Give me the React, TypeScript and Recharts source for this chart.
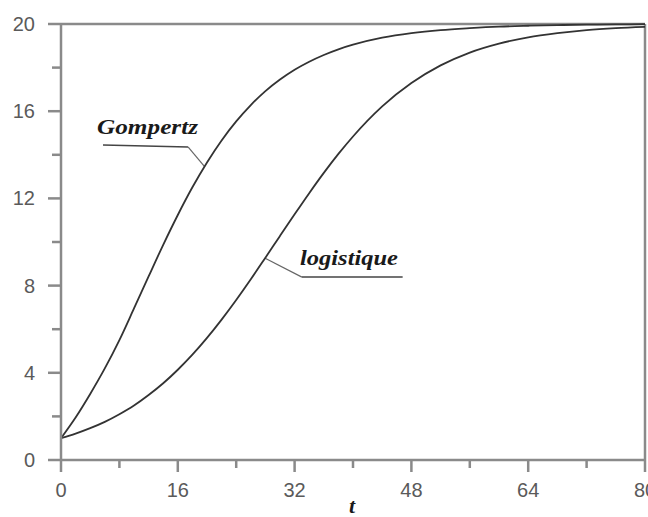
import React from 'react';
import { LineChart, Line, XAxis, YAxis, ReferenceLine, Customized } from 'recharts';

const tValues = [0, 2, 4, 6, 8, 10, 12, 14, 16, 18, 20, 22, 24, 26, 28, 30, 32, 34, 36, 38, 40, 44, 48, 52, 56, 60, 64, 68, 72, 76, 80];
const gompertz = [1.0, 1.95, 3.03, 4.2, 5.5, 6.95, 8.42, 9.87, 11.24, 12.51, 13.65, 14.66, 15.53, 16.28, 16.92, 17.45, 17.9, 18.27, 18.58, 18.84, 19.05, 19.37, 19.58, 19.72, 19.81, 19.88, 19.92, 19.95, 19.97, 19.98, 19.99];
const logistique = [1.0, 1.21, 1.46, 1.75, 2.1, 2.5, 2.98, 3.52, 4.14, 4.83, 5.6, 6.44, 7.34, 8.29, 9.28, 10.28, 11.27, 12.24, 13.17, 14.04, 14.84, 16.22, 17.29, 18.1, 18.69, 19.1, 19.39, 19.58, 19.72, 19.81, 19.87];

const xTicks = [0, 8, 16, 24, 32, 40, 48, 56, 64, 72, 80];
const yTicks = [0, 2, 4, 6, 8, 10, 12, 14, 16, 18, 20];

const gompertzLeader = [{ x: 5.75, y: 14.45 }, { x: 17.4, y: 14.36 }, { x: 19.7, y: 13.45 }];
const logistiqueLeader = [{ x: 27.9, y: 9.27 }, { x: 33.0, y: 8.39 }, { x: 46.8, y: 8.39 }];

const data = tValues.map((t, i) => ({ t, g: gompertz[i], l: logistique[i] }));

const AXIS = '#8a8a8a';
const LABEL = '#5a5a5a';
const CURVE = '#333333';

const XTick = (props: any) => {
  const { x, y, payload } = props;
  const major = payload.value % 16 === 0;
  return (
    <g>
      <line x1={x} x2={x} y1={y} y2={y + (major ? 12 : 8)} stroke={AXIS} strokeWidth={2.5} />
      {major && (
        <text x={x} y={y + 37} textAnchor="middle" fill={LABEL} fontSize={20} fontFamily="Liberation Sans, Arial, sans-serif">
          {payload.value}
        </text>
      )}
    </g>
  );
};

const YTick = (props: any) => {
  const { x, y, payload } = props;
  const major = payload.value % 4 === 0;
  return (
    <g>
      <line x1={x - (major ? 13 : 9)} x2={x} y1={y} y2={y} stroke={AXIS} strokeWidth={2.5} />
      {major && (
        <text x={x - 26} y={y + 7} textAnchor="end" fill={LABEL} fontSize={20} fontFamily="Liberation Sans, Arial, sans-serif">
          {payload.value}
        </text>
      )}
    </g>
  );
};

const Annotations = () => (
  <g fontFamily="Liberation Serif, Times New Roman, serif" fontStyle="italic" fontWeight="bold" fill="#1a1a1a">
    <text x={97} y={134} fontSize={22} textLength={101} lengthAdjust="spacingAndGlyphs">Gompertz</text>
    <text x={300} y={265} fontSize={22} textLength={98} lengthAdjust="spacingAndGlyphs">logistique</text>
    <text x={352} y={513} fontSize={22} textAnchor="middle">t</text>
  </g>
);

export default function App() {
  return (
    <div style={{ position: 'absolute', left: 0, top: 0, width: 648, height: 517, background: '#fff' }}>
      <LineChart width={648} height={517} data={data} margin={{ top: 24, right: 3, bottom: 0, left: 0 }}>
        <XAxis
          dataKey="t"
          type="number"
          domain={[0, 80]}
          ticks={xTicks}
          interval={0}
          height={57}
          tickSize={0}
          tickMargin={0}
          tickLine={false}
          axisLine={{ stroke: AXIS, strokeWidth: 2.5 }}
          tick={<XTick />}
        />
        <YAxis
          type="number"
          domain={[0, 20]}
          ticks={yTicks}
          interval={0}
          width={61}
          tickSize={0}
          tickMargin={0}
          tickLine={false}
          axisLine={{ stroke: AXIS, strokeWidth: 2.5 }}
          tick={<YTick />}
        />
        <ReferenceLine y={20} stroke={AXIS} strokeWidth={2.5} />
        <ReferenceLine x={80} stroke={AXIS} strokeWidth={2.5} />
        <ReferenceLine segment={[gompertzLeader[0], gompertzLeader[1]]} stroke="#444" strokeWidth={1.5} />
        <ReferenceLine segment={[gompertzLeader[1], gompertzLeader[2]]} stroke="#666" strokeWidth={1.2} />
        <ReferenceLine segment={[logistiqueLeader[0], logistiqueLeader[1]]} stroke="#666" strokeWidth={1.2} />
        <ReferenceLine segment={[logistiqueLeader[1], logistiqueLeader[2]]} stroke="#444" strokeWidth={1.5} />
        <Line type="monotone" dataKey="g" stroke={CURVE} strokeWidth={1.8} dot={false} isAnimationActive={false} />
        <Line type="monotone" dataKey="l" stroke={CURVE} strokeWidth={1.8} dot={false} isAnimationActive={false} />
        <Customized component={Annotations} />
      </LineChart>
    </div>
  );
}
